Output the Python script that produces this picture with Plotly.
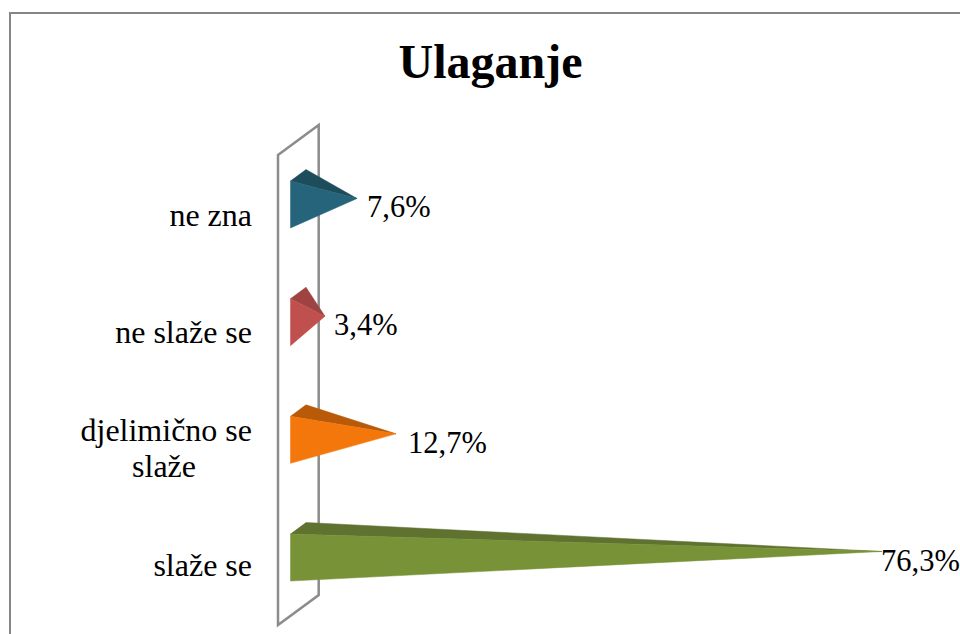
import plotly.graph_objects as go

categories = ["slaže se", "djelimično se", "ne slaže se", "ne zna"]
second_lines = {1: "slaže&nbsp;&nbsp;&nbsp;&nbsp;&nbsp;&nbsp;&nbsp;"}
values = [76.3, 12.7, 3.4, 7.6]
value_labels = ["76,3%", "12,7%", "3,4%", "7,6%"]
front_colors = ["#789337", "#F4770C", "#C0504D", "#25647A"]
top_colors = ["#5F7230", "#B95A08", "#9E4341", "#1D4C5B"]
label_gaps = [-3, 10, 7, 8]
tick_shift_px = [7, -10.5, 10, 10]
second_line_shift_px = 25.5

PX_PER_VALUE = 7.64
PX_PER_CAT = 117.67
ZERO_PX = 299.0
CAT0_PX = 557.5
LEFT_PX = 272.0
W, H = 960, 634

FRONT_X = -8.5 / PX_PER_VALUE
BACK_X = 7.0 / PX_PER_VALUE
HALF_H = 23.5 / PX_PER_CAT
BACK_Y = 35.0 / PX_PER_CAT
TIP_Y = 6.0 / PX_PER_CAT

fig = go.Figure()
pos = list(range(len(categories)))
for i, v in zip(pos, values):
    tip = (v, i + TIP_Y)
    fig.add_trace(go.Scatter(
        x=[FRONT_X, BACK_X, tip[0], FRONT_X],
        y=[i + HALF_H, i + BACK_Y, tip[1], i + HALF_H],
        mode="lines", fill="toself", fillcolor=top_colors[i],
        line=dict(width=0.5, color=top_colors[i]), hoverinfo="skip", showlegend=False))
    fig.add_trace(go.Scatter(
        x=[FRONT_X, FRONT_X, tip[0], FRONT_X],
        y=[i + HALF_H, i - HALF_H, tip[1], i + HALF_H],
        mode="lines", fill="toself", fillcolor=front_colors[i],
        line=dict(width=0.5, color=front_colors[i]), hoverinfo="skip", showlegend=False))

annotations = [
    dict(x=v, y=i, xref="x", yref="y", text=t, showarrow=False, xanchor="left",
         xshift=g, yshift=-3, font=dict(family="Liberation Serif", size=30.5, color="#000"))
    for i, v, t, g in zip(pos, values, value_labels, label_gaps)
]

tickvals = [i - s / PX_PER_CAT for i, s in zip(pos, tick_shift_px)]
ticktext = list(categories)
for i, line in second_lines.items():
    tickvals.append(i - second_line_shift_px / PX_PER_CAT)
    ticktext.append(line)


def px_x(p):
    return (p - ZERO_PX) / PX_PER_VALUE


def px_y(p):
    return (CAT0_PX - p) / PX_PER_CAT


wall = [(278, 155), (318.7, 125), (318.7, 595), (278, 625)]
wall_path = "M " + " L ".join(f"{px_x(a)},{px_y(b)}" for a, b in wall) + " Z"
shapes = [
    dict(type="path", path=wall_path, xref="x", yref="y", layer="below",
         line=dict(color="#8C8C8C", width=2.5)),
    dict(type="line", xref="paper", yref="paper", x0=-(LEFT_PX - 9) / (W - LEFT_PX),
         x1=1, y0=1 - 13 / H, y1=1 - 13 / H, line=dict(color="#868686", width=2)),
    dict(type="line", xref="paper", yref="paper", x0=-(LEFT_PX - 10) / (W - LEFT_PX),
         x1=-(LEFT_PX - 10) / (W - LEFT_PX), y0=0, y1=1 - 12 / H, line=dict(color="#868686", width=2)),
]

fig.update_layout(
    width=W, height=H, paper_bgcolor="white", plot_bgcolor="rgba(0,0,0,0)",
    margin=dict(l=LEFT_PX, r=0, t=0, b=0, pad=0),
    title=dict(text="<b>Ulaganje</b>", x=490.5 / W, xanchor="center", y=1 - 61 / H, yanchor="middle",
               font=dict(family="Liberation Serif", size=48, color="#000")),
    xaxis=dict(range=[px_x(LEFT_PX), px_x(W)], visible=False, fixedrange=True),
    yaxis=dict(range=[px_y(H), px_y(0)], tickmode="array", tickvals=tickvals, ticktext=ticktext,
               showgrid=False, zeroline=False, showline=False, ticks="", fixedrange=True,
               ticklabelstandoff=19,
               tickfont=dict(family="Liberation Serif", size=32, color="#000")),
    annotations=annotations, shapes=shapes, showlegend=False,
)
fig.write_html("out.html", config={"displayModeBar": False},
               post_script="document.body.style.margin='0';document.body.style.overflow='hidden';")
